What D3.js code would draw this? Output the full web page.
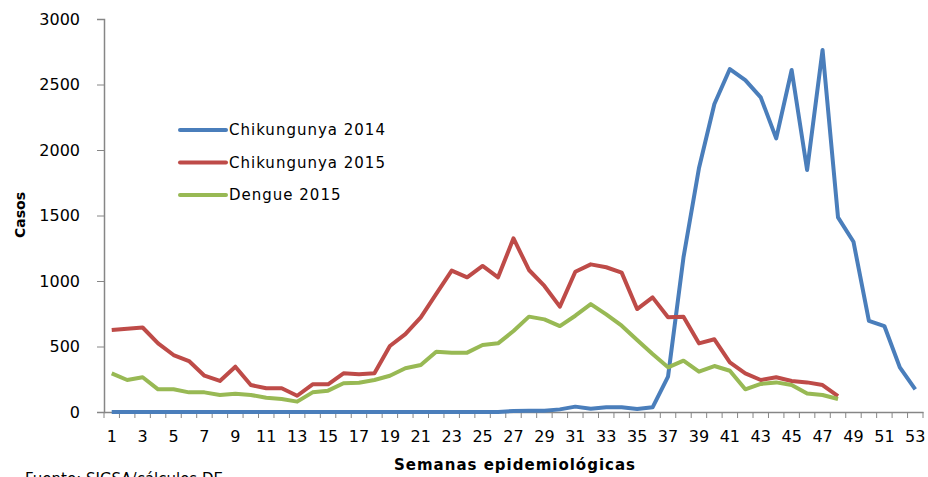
<!DOCTYPE html>
<html>
<head>
<meta charset="utf-8">
<script src="https://cdn.jsdelivr.net/npm/d3@7"></script>
<style>
  body { margin: 0; background: #fff; }
  text { font-family: "DejaVu Sans", sans-serif; fill: #000; }
</style>
</head>
<body>
<div id="chart"></div>
<script>
// semanas epidemiologicas
var weeks = d3.range(1, 54);
var yTicks = [0, 500, 1000, 1500, 2000, 2500, 3000];

var chik2014 = [0, 0, 0, 0, 0, 0, 0, 0, 0, 0, 0, 0, 0, 0, 0, 0, 0, 0, 0, 0,
    0, 0, 0, 0, 0, 0, 8, 10, 10, 20, 41, 25, 36, 36, 23, 36, 270, 1180, 1860, 2351,
    2618, 2534, 2402, 2089, 2611, 1847, 2763, 1486, 1300, 695, 656, 341, 173];

var chik2015 = [626, 636, 645, 524, 435, 389, 277, 237, 346, 206, 181, 181, 124, 211, 211, 295, 288, 295, 504, 595,
    723, 901, 1079, 1028, 1115, 1028, 1326, 1084, 962, 804, 1071, 1127, 1105, 1064, 786, 875, 723, 728, 524, 555,
    379, 295, 244, 265, 237, 226, 206, 122];

var dengue2015 = [295, 244, 265, 173, 173, 150, 150, 130, 140, 130, 109, 99, 79, 150, 163, 219, 224, 244, 277, 334,
    359, 460, 453, 453, 511, 524, 618, 728, 707, 656, 735, 824, 745, 659, 550, 443, 341, 392, 308, 351,
    315, 173, 214, 226, 206, 142, 130, 99];

var seriesNames = ["Chikungunya 2014", "Chikungunya 2015", "Dengue 2015"];
var seriesData = [chik2014, chik2015, dengue2015];
var colors = ["#4a7ebb", "#be4b48", "#98b954"];

function init() {
    var w = 928;
    var h = 477;
    var margin = {left: 104, right: 5, top: 19, bottom: 65};

    var svg = d3.select("#chart")
        .append("svg")
        .attr("width", w)
        .attr("height", h);

    var x = d3.scaleBand()
        .domain(weeks)
        .range([margin.left, w - margin.right]);

    var y = d3.scaleLinear()
        .domain([0, 3000])
        .range([h - margin.bottom, margin.top]);

    // eje y
    var yAxis = d3.axisLeft(y)
        .tickValues(yTicks)
        .tickFormat(d3.format("d"))
        .tickSize(7)
        .tickPadding(17);
    var gy = svg.append("g")
        .attr("transform", "translate(" + margin.left + ",0)")
        .call(yAxis);
    gy.selectAll("text").style("font-size", "16px");

    // eje x
    var xAxis = d3.axisBottom(x)
        .tickSize(0)
        .tickPadding(19)
        .tickFormat(function(d) { return d % 2 == 1 ? d : ""; });
    var gx = svg.append("g")
        .attr("transform", "translate(0," + y(0) + ")")
        .call(xAxis);
    gx.selectAll("text").style("font-size", "16px");

    // marcas entre categorias
    var bounds = weeks.map(function(d) { return x(d); }).concat([x.range()[1]]);
    gx.selectAll("line.sep")
        .data(bounds)
        .enter()
        .append("line")
        .attr("class", "sep")
        .attr("x1", function(d) { return d; })
        .attr("x2", function(d) { return d; })
        .attr("y1", 0)
        .attr("y2", 6)
        .attr("stroke", "#868686");

    svg.selectAll(".domain").attr("stroke", "#868686").attr("stroke-width", 1.5);
    gy.selectAll(".tick line").attr("stroke", "#868686");

    // lineas
    var line = d3.line()
        .x(function(d, i) { return x(weeks[i]) + x.bandwidth() / 2; })
        .y(function(d) { return y(d); });

    svg.selectAll("path.serie")
        .data(seriesData)
        .enter()
        .append("path")
        .attr("class", "serie")
        .attr("d", line)
        .attr("fill", "none")
        .attr("stroke", function(d, i) { return colors[i]; })
        .attr("stroke-width", 4)
        .attr("stroke-linejoin", "round");

    // leyenda
    var legend = svg.selectAll("g.legend")
        .data(seriesNames)
        .enter()
        .append("g")
        .attr("class", "legend")
        .attr("transform", function(d, i) { return "translate(180," + (130 + i * 32.5) + ")"; });
    legend.append("line")
        .attr("x1", 0).attr("x2", 46)
        .attr("stroke", function(d, i) { return colors[i]; })
        .attr("stroke-width", 4)
        .attr("stroke-linecap", "round");
    legend.append("text")
        .attr("x", 49)
        .attr("dy", "0.35em")
        .style("font-size", "15px")
        .style("letter-spacing", "1px")
        .text(function(d) { return d; });

    // titulos
    svg.append("text")
        .attr("transform", "translate(25," + 215 + ") rotate(-90)")
        .attr("text-anchor", "middle")
        .style("font-size", "14px")
        .style("font-weight", "bold")
        .text("Casos");

    svg.append("text")
        .attr("x", 515)
        .attr("y", 470)
        .attr("text-anchor", "middle")
        .style("font-size", "15px")
        .style("font-weight", "bold")
        .style("letter-spacing", "1px")
        .text("Semanas epidemiológicas");

    svg.append("text")
        .attr("x", 25)
        .attr("y", 484)
        .style("font-size", "15px")
        .text("Fuente: SIGSA/cálculos DE");
}

window.onload = init;
</script>
</body>
</html>
